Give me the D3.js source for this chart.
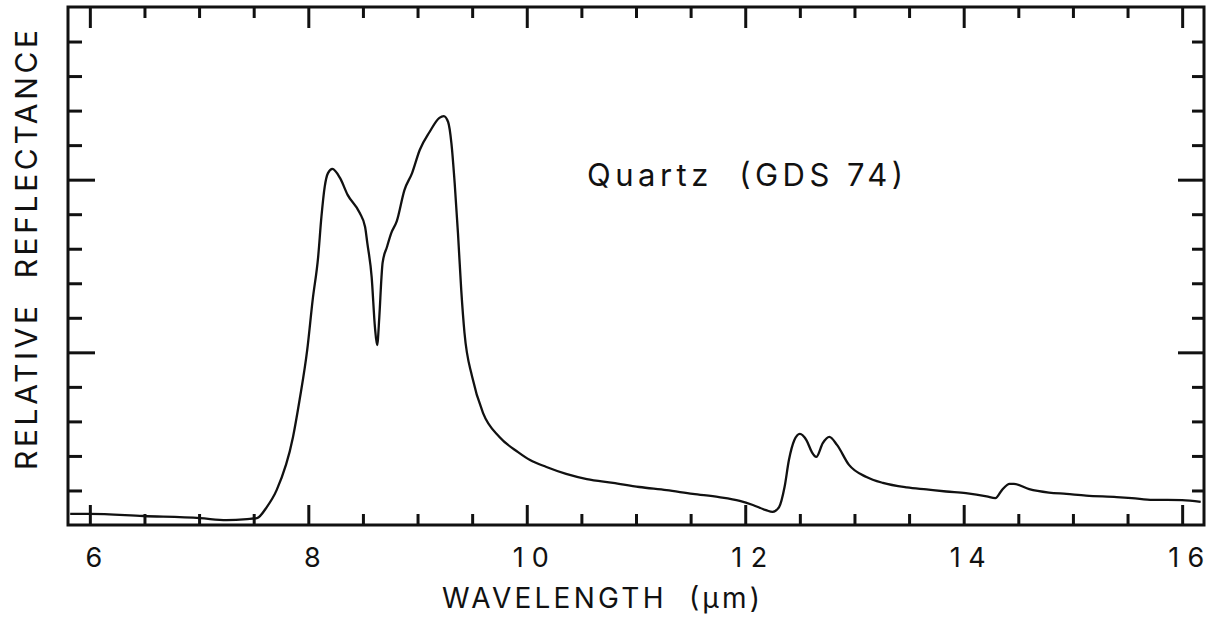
<!DOCTYPE html>
<html>
<head>
<meta charset="utf-8">
<script src="https://cdn.jsdelivr.net/npm/d3@7/dist/d3.min.js"></script>
<style>
  html, body { margin: 0; padding: 0; background: #fff; }
  svg { display: block; }
  text { font-family: Inter, "DejaVu Sans", sans-serif; font-weight: 400; fill: #111; white-space: pre; }
</style>
</head>
<body>
<svg id="chart" width="1221" height="620"></svg>
<script>
// ---- data ----
const wavelength = [5.82, 6.00, 6.49, 7.01, 7.25, 7.44, 7.53, 7.62, 7.71, 7.86, 7.92, 7.99, 8.04, 8.09, 8.12, 8.15, 8.18, 8.22, 8.29, 8.36, 8.47, 8.52, 8.54, 8.58, 8.61, 8.63, 8.65, 8.67, 8.68, 8.72, 8.76, 8.81, 8.88, 8.95, 9.02, 9.11, 9.20, 9.24, 9.28, 9.31, 9.34, 9.37, 9.40, 9.43, 9.50, 9.60, 9.75, 9.92, 10.03, 10.18, 10.36, 10.55, 10.79, 11.03, 11.28, 11.52, 11.76, 11.95, 12.07, 12.19, 12.25, 12.31, 12.36, 12.40, 12.45, 12.50, 12.56, 12.61, 12.65, 12.71, 12.77, 12.84, 12.95, 13.11, 13.26, 13.48, 13.66, 13.84, 14.02, 14.21, 14.29, 14.35, 14.42, 14.46, 14.60, 14.78, 14.94, 15.12, 15.40, 15.54, 15.73, 16.00, 16.17];
const reflectance = [0.032, 0.032, 0.026, 0.020, 0.014, 0.017, 0.020, 0.052, 0.101, 0.255, 0.362, 0.507, 0.652, 0.776, 0.892, 0.979, 1.019, 1.031, 1.005, 0.956, 0.904, 0.863, 0.817, 0.718, 0.573, 0.521, 0.602, 0.718, 0.759, 0.805, 0.846, 0.880, 0.970, 1.019, 1.086, 1.138, 1.179, 1.184, 1.167, 1.106, 0.990, 0.846, 0.681, 0.556, 0.429, 0.324, 0.255, 0.211, 0.188, 0.168, 0.148, 0.133, 0.122, 0.110, 0.101, 0.090, 0.081, 0.070, 0.058, 0.043, 0.038, 0.052, 0.110, 0.188, 0.246, 0.264, 0.246, 0.211, 0.197, 0.237, 0.255, 0.232, 0.174, 0.139, 0.122, 0.109, 0.103, 0.097, 0.092, 0.083, 0.078, 0.101, 0.119, 0.119, 0.104, 0.094, 0.090, 0.085, 0.081, 0.078, 0.073, 0.072, 0.067];

const xMajorTicks = [6, 8, 10, 12, 14, 16];
const xTickLabels = ["6", "8", "10", "12", "14", "16"];
const xMinorTicks = [6.5, 7, 7.5, 8.5, 9, 9.5, 10.5, 11, 11.5, 12.5, 13, 13.5, 14.5, 15, 15.5];
const yMajorTicks = [0.5, 1.0];
const yMinorTicks = [0.1, 0.2, 0.3, 0.4, 0.6, 0.7, 0.8, 0.9, 1.1, 1.2, 1.3, 1.4];

const xTitle = "WAVELENGTH  (\u03bcm)";
const yTitle = "RELATIVE  REFLECTANCE";
const annotation = "Quartz  (GDS 74)";

// ---- layout ----
const L = 68, R = 1204, T = 7, B = 525;
const svg = d3.select("#chart");
const x = d3.scaleLinear().domain([5.8, 16.2]).range([L, R]);
const y = d3.scaleLinear().domain([0, 1.5]).range([B, T]);

const tickStyle = g => {
  g.select(".domain").remove();
  g.selectAll(".tick line").attr("stroke", "#111").attr("stroke-width", 3);
  g.selectAll(".tick text").remove();
};

// bottom & top axes (ticks inward)
svg.append("g").attr("transform", `translate(0,${B})`)
  .call(d3.axisBottom(x).tickValues(xMajorTicks).tickSize(-20)).call(tickStyle);
svg.append("g").attr("transform", `translate(0,${B})`)
  .call(d3.axisBottom(x).tickValues(xMinorTicks).tickSize(-11)).call(tickStyle);
svg.append("g").attr("transform", `translate(0,${T})`)
  .call(d3.axisTop(x).tickValues(xMajorTicks).tickSize(-21)).call(tickStyle);
svg.append("g").attr("transform", `translate(0,${T})`)
  .call(d3.axisTop(x).tickValues(xMinorTicks).tickSize(-11)).call(tickStyle);
// left & right axes
svg.append("g").attr("transform", `translate(${L},0)`)
  .call(d3.axisLeft(y).tickValues(yMajorTicks).tickSize(-27)).call(tickStyle);
svg.append("g").attr("transform", `translate(${L},0)`)
  .call(d3.axisLeft(y).tickValues(yMinorTicks).tickSize(-14)).call(tickStyle);
svg.append("g").attr("transform", `translate(${R},0)`)
  .call(d3.axisRight(y).tickValues(yMajorTicks).tickSize(-26)).call(tickStyle);
svg.append("g").attr("transform", `translate(${R},0)`)
  .call(d3.axisRight(y).tickValues(yMinorTicks).tickSize(-12)).call(tickStyle);

// frame
svg.append("rect").attr("x", L).attr("y", T).attr("width", R - L).attr("height", B - T)
  .attr("fill", "none").attr("stroke", "#111").attr("stroke-width", 3);

// x tick labels
svg.append("g").selectAll("text").data(xMajorTicks).join("text")
  .attr("x", d => x(d) + 4).attr("y", 567)
  .attr("text-anchor", "middle")
  .attr("font-size", 27)
  .text((d, i) => xTickLabels[i])
  .each(function (d, i) {
    if (xTickLabels[i].length === 2) d3.select(this).attr("textLength", 36).attr("lengthAdjust", "spacing");
  });

// axis titles
svg.append("text").attr("x", 442).attr("y", 608).attr("font-size", 28)
  .attr("textLength", 318).attr("lengthAdjust", "spacing").text(xTitle);
svg.append("text").attr("transform", "translate(37,470) rotate(-90)")
  .attr("font-size", 30).attr("textLength", 440).attr("lengthAdjust", "spacing").text(yTitle);

// annotation
svg.append("text").attr("x", 587).attr("y", 186).attr("font-size", 31)
  .attr("textLength", 316).attr("lengthAdjust", "spacing").text(annotation);

// spectrum
const data = wavelength.map((w, i) => ({ w, r: reflectance[i] }));
const line = d3.line().x(d => x(d.w)).y(d => y(d.r)).curve(d3.curveMonotoneX);
svg.append("path").datum(data).attr("d", line)
  .attr("fill", "none").attr("stroke", "#111").attr("stroke-width", 2.3)
  .attr("stroke-linejoin", "round");
</script>
</body>
</html>
